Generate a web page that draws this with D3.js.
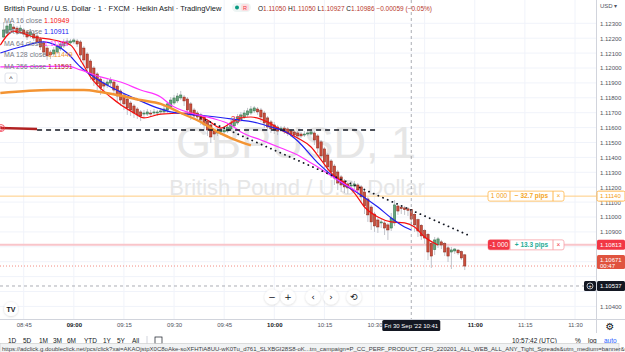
<!DOCTYPE html>
<html>
<head>
<meta charset="utf-8">
<script src="https://cdn.jsdelivr.net/npm/d3@7"></script>
<style>
  body { margin: 0; background: #fff; }
  svg { display: block; font-family: "Liberation Sans", Arial, sans-serif; }
</style>
</head>
<body>
<div id="chart"></div>
<script>
// Heikin Ashi bars, 1 minute: time, open, high, low, close
const bars = [
  ["08:39", 1.12208, 1.12309, 1.12201, 1.12255], ["08:40", 1.12235, 1.12309, 1.12228, 1.12282],
  ["08:41", 1.12255, 1.12315, 1.12248, 1.12295], ["08:42", 1.12275, 1.12295, 1.12242, 1.12262],
  ["08:43", 1.12268, 1.12282, 1.12221, 1.12235], ["08:44", 1.12248, 1.12289, 1.12228, 1.12268],
  ["08:45", 1.12255, 1.12268, 1.12208, 1.12228], ["08:46", 1.12242, 1.12255, 1.12188, 1.12208],
  ["08:47", 1.12221, 1.12262, 1.12201, 1.12242], ["08:48", 1.12228, 1.12248, 1.12181, 1.12201],
  ["08:49", 1.12215, 1.12228, 1.12154, 1.12175], ["08:50", 1.12195, 1.12208, 1.12121, 1.12141],
  ["08:51", 1.12168, 1.12181, 1.12081, 1.12107], ["08:52", 1.12134, 1.12148, 1.12054, 1.12081],
  ["08:53", 1.12107, 1.12121, 1.12060, 1.12087], ["08:54", 1.12094, 1.12141, 1.12074, 1.12121],
  ["08:55", 1.12107, 1.12161, 1.12094, 1.12148], ["08:56", 1.12128, 1.12175, 1.12114, 1.12161],
  ["08:57", 1.12148, 1.12195, 1.12134, 1.12175], ["08:58", 1.12161, 1.12201, 1.12154, 1.12181],
  ["08:59", 1.12168, 1.12195, 1.12161, 1.12181], ["09:00", 1.12175, 1.12201, 1.12161, 1.12188],
  ["09:01", 1.12181, 1.12195, 1.12141, 1.12161], ["09:02", 1.12175, 1.12188, 1.12040, 1.12087],
  ["09:03", 1.12134, 1.12148, 1.12013, 1.12054], ["09:04", 1.12094, 1.12107, 1.11973, 1.12000],
  ["09:05", 1.12047, 1.12060, 1.11920, 1.11953], ["09:06", 1.12000, 1.12013, 1.11879, 1.11920],
  ["09:07", 1.11960, 1.11973, 1.11852, 1.11893], ["09:08", 1.11926, 1.11940, 1.11819, 1.11866],
  ["09:09", 1.11899, 1.11920, 1.11839, 1.11879], ["09:10", 1.11886, 1.11933, 1.11866, 1.11906],
  ["09:11", 1.11899, 1.11940, 1.11879, 1.11920], ["09:12", 1.11906, 1.11920, 1.11819, 1.11852],
  ["09:13", 1.11879, 1.11893, 1.11772, 1.11812], ["09:14", 1.11846, 1.11859, 1.11745, 1.11785],
  ["09:15", 1.11819, 1.11832, 1.11718, 1.11759], ["09:16", 1.11792, 1.11805, 1.11685, 1.11732],
  ["09:17", 1.11765, 1.11779, 1.11678, 1.11718], ["09:18", 1.11745, 1.11759, 1.11665, 1.11698],
  ["09:19", 1.11725, 1.11738, 1.11658, 1.11685], ["09:20", 1.11705, 1.11718, 1.11644, 1.11678],
  ["09:21", 1.11691, 1.11718, 1.11665, 1.11698], ["09:22", 1.11691, 1.11725, 1.11678, 1.11705],
  ["09:23", 1.11698, 1.11718, 1.11671, 1.11691], ["09:24", 1.11698, 1.11725, 1.11678, 1.11705],
  ["09:25", 1.11698, 1.11718, 1.11678, 1.11705], ["09:26", 1.11705, 1.11732, 1.11685, 1.11712],
  ["09:27", 1.11705, 1.11745, 1.11691, 1.11725], ["09:28", 1.11718, 1.11772, 1.11698, 1.11759],
  ["09:29", 1.11738, 1.11805, 1.11725, 1.11785], ["09:30", 1.11765, 1.11819, 1.11752, 1.11799],
  ["09:31", 1.11779, 1.11832, 1.11765, 1.11812], ["09:32", 1.11799, 1.11846, 1.11785, 1.11819],
  ["09:33", 1.11805, 1.11819, 1.11745, 1.11779], ["09:34", 1.11792, 1.11805, 1.11671, 1.11718],
  ["09:35", 1.11759, 1.11772, 1.11651, 1.11685], ["09:36", 1.11718, 1.11732, 1.11651, 1.11678],
  ["09:37", 1.11698, 1.11712, 1.11644, 1.11671], ["09:38", 1.11685, 1.11698, 1.11618, 1.11651],
  ["09:39", 1.11671, 1.11685, 1.11584, 1.11618], ["09:40", 1.11644, 1.11658, 1.11544, 1.11584],
  ["09:41", 1.11618, 1.11631, 1.11497, 1.11537], ["09:42", 1.11577, 1.11591, 1.11517, 1.11557],
  ["09:43", 1.11564, 1.11597, 1.11544, 1.11571], ["09:44", 1.11571, 1.11597, 1.11550, 1.11577],
  ["09:45", 1.11571, 1.11604, 1.11557, 1.11584], ["09:46", 1.11577, 1.11624, 1.11564, 1.11604],
  ["09:47", 1.11591, 1.11651, 1.11577, 1.11631], ["09:48", 1.11611, 1.11671, 1.11597, 1.11651],
  ["09:49", 1.11631, 1.11691, 1.11618, 1.11671], ["09:50", 1.11651, 1.11705, 1.11638, 1.11685],
  ["09:51", 1.11671, 1.11718, 1.11658, 1.11698], ["09:52", 1.11685, 1.11732, 1.11671, 1.11712],
  ["09:53", 1.11698, 1.11745, 1.11685, 1.11725], ["09:54", 1.11712, 1.11745, 1.11698, 1.11732],
  ["09:55", 1.11725, 1.11738, 1.11685, 1.11705], ["09:56", 1.11718, 1.11732, 1.11638, 1.11671],
  ["09:57", 1.11698, 1.11712, 1.11597, 1.11631], ["09:58", 1.11665, 1.11678, 1.11577, 1.11604],
  ["09:59", 1.11638, 1.11651, 1.11564, 1.11591], ["10:00", 1.11618, 1.11638, 1.11557, 1.11584],
  ["10:01", 1.11604, 1.11618, 1.11550, 1.11577], ["10:02", 1.11591, 1.11611, 1.11571, 1.11597],
  ["10:03", 1.11597, 1.11611, 1.11557, 1.11577], ["10:04", 1.11591, 1.11604, 1.11544, 1.11564],
  ["10:05", 1.11577, 1.11591, 1.11537, 1.11557], ["10:06", 1.11571, 1.11584, 1.11530, 1.11550],
  ["10:07", 1.11564, 1.11577, 1.11524, 1.11544], ["10:08", 1.11557, 1.11571, 1.11530, 1.11544],
  ["10:09", 1.11550, 1.11577, 1.11537, 1.11557], ["10:10", 1.11557, 1.11584, 1.11544, 1.11564],
  ["10:11", 1.11557, 1.11577, 1.11550, 1.11571], ["10:12", 1.11564, 1.11577, 1.11483, 1.11517],
  ["10:13", 1.11544, 1.11557, 1.11430, 1.11463], ["10:14", 1.11504, 1.11517, 1.11383, 1.11410],
  ["10:15", 1.11457, 1.11470, 1.11329, 1.11369], ["10:16", 1.11416, 1.11430, 1.11282, 1.11336],
  ["10:17", 1.11376, 1.11389, 1.11262, 1.11302], ["10:18", 1.11342, 1.11356, 1.11215, 1.11262],
  ["10:19", 1.11302, 1.11316, 1.11181, 1.11228], ["10:20", 1.11269, 1.11282, 1.11168, 1.11215],
  ["10:21", 1.11242, 1.11255, 1.11161, 1.11202], ["10:22", 1.11222, 1.11235, 1.11155, 1.11195],
  ["10:23", 1.11208, 1.11242, 1.11181, 1.11215], ["10:24", 1.11208, 1.11242, 1.11188, 1.11222],
  ["10:25", 1.11215, 1.11228, 1.11148, 1.11181], ["10:26", 1.11202, 1.11215, 1.11094, 1.11135],
  ["10:27", 1.11168, 1.11181, 1.11020, 1.11074], ["10:28", 1.11121, 1.11135, 1.10967, 1.11014],
  ["10:29", 1.11067, 1.11081, 1.10913, 1.10967], ["10:30", 1.11020, 1.11034, 1.10900, 1.10940],
  ["10:31", 1.10980, 1.10993, 1.10893, 1.10933], ["10:32", 1.10960, 1.10987, 1.10926, 1.10967],
  ["10:33", 1.10960, 1.10973, 1.10879, 1.10926], ["10:34", 1.10947, 1.10960, 1.10846, 1.10913],
  ["10:35", 1.10926, 1.11027, 1.10906, 1.10993], ["10:36", 1.10960, 1.11114, 1.10940, 1.11081],
  ["10:37", 1.11074, 1.11080, 1.11014, 1.11040], ["10:38", 1.11066, 1.11080, 1.11020, 1.11056],
  ["10:39", 1.11061, 1.11074, 1.11014, 1.11049], ["10:40", 1.11055, 1.11067, 1.11007, 1.11045],
  ["10:41", 1.11050, 1.11050, 1.10927, 1.10986], ["10:42", 1.11018, 1.11025, 1.10900, 1.10947],
  ["10:43", 1.10982, 1.10990, 1.10866, 1.10906], ["10:44", 1.10944, 1.10953, 1.10846, 1.10873],
  ["10:45", 1.10908, 1.10920, 1.10819, 1.10859], ["10:46", 1.10884, 1.10893, 1.10711, 1.10765],
  ["10:47", 1.10824, 1.10832, 1.10658, 1.10738], ["10:48", 1.10781, 1.10866, 1.10745, 1.10846],
  ["10:49", 1.10813, 1.10866, 1.10792, 1.10853], ["10:50", 1.10833, 1.10846, 1.10785, 1.10812],
  ["10:51", 1.10822, 1.10832, 1.10738, 1.10765], ["10:52", 1.10793, 1.10806, 1.10698, 1.10738],
  ["10:53", 1.10765, 1.10799, 1.10651, 1.10779], ["10:54", 1.10772, 1.10792, 1.10752, 1.10785],
  ["10:55", 1.10778, 1.10785, 1.10745, 1.10759], ["10:56", 1.10768, 1.10775, 1.10711, 1.10725],
  ["10:57", 1.10746, 1.10752, 1.10644, 1.10671]
]

// moving averages (time, value)
const ma16 = [["08:38", 1.12154], ["08:42", 1.12248], ["08:48", 1.12208], ["08:54", 1.12188], ["08:59", 1.12154],
  ["09:02", 1.12054], ["09:05", 1.11940], ["09:11", 1.11805], ["09:18", 1.11698], ["09:21", 1.11665],
  ["09:26", 1.11691], ["09:35", 1.11698], ["09:40", 1.11651], ["09:44", 1.11597], ["09:47", 1.11631],
  ["09:50", 1.11665], ["09:53", 1.11671], ["09:58", 1.11638], ["10:02", 1.11584], ["10:07", 1.11530],
  ["10:11", 1.11470], ["10:14", 1.11383], ["10:17", 1.11296], ["10:21", 1.11228], ["10:24", 1.11161],
  ["10:27", 1.11067], ["10:31", 1.11000], ["10:35", 1.10967], ["10:39", 1.10960], ["10:42", 1.10933],
  ["10:45", 1.10866], ["10:49", 1.10812]]
const ma32 = [["08:38", 1.12101], ["08:44", 1.12141], ["08:51", 1.12175], ["08:58", 1.12101], ["09:02", 1.12007],
  ["09:06", 1.11940], ["09:11", 1.11873], ["09:18", 1.11799], ["09:25", 1.11732], ["09:29", 1.11705],
  ["09:40", 1.11678], ["09:47", 1.11658], ["09:55", 1.11631], ["09:59", 1.11604], ["10:04", 1.11564],
  ["10:07", 1.11510], ["10:13", 1.11363], ["10:19", 1.11248], ["10:25", 1.11161], ["10:31", 1.11067],
  ["10:35", 1.10993], ["10:39", 1.10933], ["10:41", 1.10913]]
const ma64 = [["08:38", 1.12007], ["08:58", 1.12013], ["09:02", 1.11987], ["09:08", 1.11940], ["09:14", 1.11906],
  ["09:20", 1.11852], ["09:26", 1.11805], ["09:29", 1.11752], ["09:35", 1.11698], ["09:41", 1.11665],
  ["09:47", 1.11618], ["09:50", 1.11571], ["09:56", 1.11517], ["10:02", 1.11463], ["10:07", 1.11416],
  ["10:11", 1.11363], ["10:13", 1.11336], ["10:19", 1.11248], ["10:25", 1.11168]]
const ma128 = [["08:38", 1.11832], ["08:53", 1.11852], ["09:03", 1.11852], ["09:08", 1.11839], ["09:13", 1.11819],
  ["09:20", 1.11785], ["09:26", 1.11759], ["09:32", 1.11698], ["09:38", 1.11638], ["09:43", 1.11571],
  ["09:47", 1.11530], ["09:53", 1.11480]]
const ma256 = [["08:38", 1.11597], ["08:49", 1.11591]]

const maNames = ["MA 16 close", "MA 32 close", "MA 64 close", "MA 128 close", "MA 256 close"]
const maValues = ["1.10949", "1.10911", "1.11183", "1.11449", "1.11591"]
const maColors = ["#f50f0f", "#2020f0", "#ff33ff", "#f39433", "#b22222"]

// drawings and trading lines
const levelLine = { from: "08:49", to: "10:31", price: 1.11584 }
const trendLine = [["09:38", 1.11665], ["10:58", 1.10879]]
const orders = [
  { price: 1.11140, qty: "1 000", pips: "\u2212 32.7 pips", kind: "buy" },
  { price: 1.10813, qty: "-1 000", pips: "+ 13.3 pips", kind: "sell" }
]
const lastPrice = 1.10671, countdown = "00:47"
const cursorTime = "10:41", cursorPrice = 1.10537
const priceTicks = d3.range(1.104, 1.12350, 0.001)

const W = 625, H = 352, plotR = 596, plotB = 319
const parse = d3.timeParse("%H:%M")
const x = d3.scaleTime().domain([parse("08:45"), parse("11:30")]).range([23.7, 575])
const y = d3.scaleLinear().domain([1.104, 1.124]).range([306.4, 8.4])
const fmt5 = d3.format(".5f")

const svg = d3.select("#chart").append("svg")
  .attr("width", W).attr("height", H)
svg.append("rect").attr("width", W).attr("height", H).attr("fill", "#fff")

svg.append("defs").append("clipPath").attr("id", "plot")
  .append("rect").attr("width", plotR).attr("height", plotB)
const f = svg.append("defs").append("filter").attr("id", "shadow")
  .attr("x", "-50%").attr("y", "-50%").attr("width", "200%").attr("height", "200%")
f.append("feDropShadow").attr("dx", 0).attr("dy", 0.5).attr("stdDeviation", 1)
  .attr("flood-color", "#000").attr("flood-opacity", 0.2)

const plot = svg.append("g").attr("clip-path", "url(#plot)")

// grid
const timeTicks = x.ticks(d3.timeMinute.every(15))
plot.selectAll(".vg").data(timeTicks).enter().append("line")
  .attr("x1", d => x(d)).attr("x2", d => x(d)).attr("y1", 0).attr("y2", plotB)
  .attr("stroke", "#f0f3fa")
plot.selectAll(".hg").data(priceTicks).enter().append("line")
  .attr("x1", 0).attr("x2", plotR).attr("y1", d => y(d)).attr("y2", d => y(d))
  .attr("stroke", "#f0f3fa")

// watermark
plot.append("text").attr("x", 296).attr("y", 158).attr("text-anchor", "middle")
  .attr("font-size", 45).attr("fill", "#e6e6e6").text("GBPUSD, 1")
plot.append("text").attr("x", 297).attr("y", 195).attr("text-anchor", "middle")
  .attr("font-size", 22).attr("fill", "#e6e6e6").text("British Pound / U.S. Dollar")

// order lines
orders.forEach(o => {
  plot.append("line").attr("x1", 0).attr("x2", plotR)
    .attr("y1", y(o.price)).attr("y2", y(o.price))
    .attr("stroke", o.kind === "buy" ? "#ffcc80" : "#f9c5ca")
    .attr("stroke-width", o.kind === "buy" ? 1 : 2)
})
// last price line
plot.append("line").attr("x1", 0).attr("x2", plotR)
  .attr("y1", y(lastPrice)).attr("y2", y(lastPrice))
  .attr("stroke", "#f28b82").attr("stroke-dasharray", "1,2")

// candles
const bw = 2.3
const cg = plot.append("g")
cg.selectAll(".wick").data(bars).enter().append("line")
  .attr("x1", d => x(parse(d[0]))).attr("x2", d => x(parse(d[0])))
  .attr("y1", d => y(d[2])).attr("y2", d => y(d[3]))
  .attr("stroke", "#b2b5be").attr("stroke-width", 0.8)
cg.selectAll(".body").data(bars).enter().append("rect")
  .attr("x", d => x(parse(d[0])) - bw / 2)
  .attr("y", d => y(Math.max(d[1], d[4])))
  .attr("width", bw)
  .attr("height", d => Math.max(0.8, Math.abs(y(d[1]) - y(d[4]))))
  .attr("fill", d => d[4] >= d[1] ? "#66a37a" : "#cc4e3c")
  .attr("stroke", d => d[4] >= d[1] ? "#2f6e48" : "#85261a")
  .attr("stroke-width", 0.5)

// moving averages
const maLine = d3.line().x(d => x(parse(d[0]))).y(d => y(d[1])).curve(d3.curveMonotoneX)
const maSets = [ma16, ma32, ma64, ma128, ma256]
const maWidths = [1.2, 1.2, 1.2, 2.4, 2.4]
maSets.forEach((s, i) => {
  plot.append("path").datum(s).attr("d", maLine)
    .attr("fill", "none").attr("stroke", maColors[i]).attr("stroke-width", maWidths[i])
})

// drawings
plot.append("line")
  .attr("x1", x(parse(levelLine.from))).attr("x2", x(parse(levelLine.to)))
  .attr("y1", y(levelLine.price)).attr("y2", y(levelLine.price))
  .attr("stroke", "#131722").attr("stroke-width", 1.3).attr("stroke-dasharray", "5,4")
plot.append("line")
  .attr("x1", x(parse(trendLine[0][0]))).attr("y1", y(trendLine[0][1]))
  .attr("x2", x(parse(trendLine[1][0]))).attr("y2", y(trendLine[1][1]))
  .attr("stroke", "#131722").attr("stroke-width", 1.8)
  .attr("stroke-dasharray", "0.1,5").attr("stroke-linecap", "round")
plot.append("text").attr("x", x(parse("09:47"))).attr("y", y(1.11635))
  .attr("font-size", 9).attr("fill", "#f23645").text("23°")
plot.append("circle").attr("cx", 1).attr("cy", y(1.11597)).attr("r", 3.5)
  .attr("fill", "none").attr("stroke", "#f23645").attr("stroke-width", 0.8)
plot.append("text").attr("x", 1).attr("y", y(1.11597) + 2.5).attr("text-anchor", "middle")
  .attr("font-size", 7).attr("fill", "#f23645").text("0")

// crosshair
plot.append("line").attr("x1", x(parse(cursorTime))).attr("x2", x(parse(cursorTime)))
  .attr("y1", 0).attr("y2", plotB)
  .attr("stroke", "#9598a1").attr("stroke-width", 0.8).attr("stroke-dasharray", "3,3")
plot.append("line").attr("x1", 0).attr("x2", plotR)
  .attr("y1", y(cursorPrice)).attr("y2", y(cursorPrice))
  .attr("stroke", "#9598a1").attr("stroke-width", 0.8).attr("stroke-dasharray", "3,3")

// order boxes
orders.forEach(o => {
  const cy = y(o.price), bx = 488, by = cy - 5
  const buy = o.kind === "buy"
  const edge = buy ? "#ffb74d" : "#f7a1a8"
  const g = svg.append("g")
  g.append("rect").attr("x", bx).attr("y", by).attr("width", 76).attr("height", 10)
    .attr("rx", 2).attr("fill", "#fff").attr("stroke", edge).attr("stroke-width", 0.8)
  if (!buy) g.append("rect").attr("x", bx).attr("y", by).attr("width", 22).attr("height", 10)
    .attr("rx", 2).attr("fill", "#f23645")
  g.append("line").attr("x1", bx + 22).attr("x2", bx + 22).attr("y1", by).attr("y2", by + 10).attr("stroke", edge)
  g.append("line").attr("x1", bx + 65).attr("x2", bx + 65).attr("y1", by).attr("y2", by + 10).attr("stroke", edge)
  g.append("text").attr("x", bx + 11).attr("y", cy + 2.3).attr("text-anchor", "middle")
    .attr("font-size", 6.5).attr("fill", buy ? "#f39c12" : "#fff").text(o.qty)
  g.append("text").attr("x", bx + 43.5).attr("y", cy + 2.3).attr("text-anchor", "middle")
    .attr("font-size", 6.5).attr("font-weight", "bold")
    .attr("fill", buy ? "#f5a623" : "#22ab94").text(o.pips)
  g.append("text").attr("x", bx + 70.5).attr("y", cy + 2.3).attr("text-anchor", "middle")
    .attr("font-size", 6.5).attr("fill", buy ? "#f5a623" : "#f23645").text("\u00d7")
})

// price axis
svg.append("line").attr("x1", plotR + 0.5).attr("x2", plotR + 0.5).attr("y1", 0).attr("y2", H - 19)
  .attr("stroke", "#d1d4dc")
const hidden = [y(orders[1].price), y(lastPrice) - 6, y(lastPrice) + 3, y(cursorPrice)]
const yAxis = d3.axisRight(y).tickValues(priceTicks).tickFormat(fmt5).tickSize(0).tickPadding(4)
const ya = svg.append("g").attr("transform", `translate(${plotR},0)`).call(yAxis)
ya.select(".domain").remove()
ya.selectAll("text").attr("font-size", 6).attr("fill", "#50535e")
  .attr("display", d => hidden.some(h => Math.abs(h - y(d)) < 8) ? "none" : null)
svg.append("text").attr("x", 600).attr("y", 8).attr("font-size", 6).attr("fill", "#50535e").text("USD \u25be")

function axisLabel(price, fill, stroke, color, text2) {
  const cy = y(price)
  const h = text2 ? 14 : 10
  const top = text2 ? cy - 11 : cy - 5
  svg.append("rect").attr("x", plotR + 1).attr("y", top).attr("width", W - plotR - 1).attr("height", h)
    .attr("fill", fill).attr("stroke", stroke).attr("rx", 1.5)
  svg.append("text").attr("x", 600).attr("y", top + 7.3).attr("font-size", 6).attr("fill", color).text(fmt5(price))
  if (text2) svg.append("text").attr("x", 600).attr("y", top + 13).attr("font-size", 6).attr("fill", color).text(text2)
}
axisLabel(orders[0].price, "#fff", "#ffb74d", "#f39c12")
axisLabel(orders[1].price, "#f23645", "none", "#fff")
axisLabel(lastPrice, "#e0533f", "none", "#fff", countdown)
axisLabel(cursorPrice, "#131722", "none", "#fff")
svg.append("rect").attr("x", 584).attr("y", y(cursorPrice) - 5).attr("width", 12).attr("height", 10)
  .attr("fill", "#131722").attr("rx", 1.5)
svg.append("circle").attr("cx", 590).attr("cy", y(cursorPrice)).attr("r", 3)
  .attr("fill", "none").attr("stroke", "#fff").attr("stroke-width", 0.7)
svg.append("text").attr("x", 590).attr("y", y(cursorPrice) + 2).attr("text-anchor", "middle")
  .attr("font-size", 6).attr("fill", "#fff").text("+")

// time axis
svg.append("line").attr("x1", 0).attr("x2", W).attr("y1", plotB + 0.5).attr("y2", plotB + 0.5).attr("stroke", "#d1d4dc")
const xAxis = d3.axisBottom(x).ticks(d3.timeMinute.every(15)).tickFormat(d3.timeFormat("%H:%M"))
  .tickSize(0).tickPadding(4)
const xa = svg.append("g").attr("transform", `translate(0,${plotB})`).call(xAxis)
xa.select(".domain").remove()
xa.selectAll("text").attr("font-size", 6).attr("fill", "#50535e")
  .attr("font-weight", d => d.getMinutes() === 0 ? "bold" : null)
  .attr("fill", d => d.getMinutes() === 0 ? "#131722" : "#50535e")
const cx = x(parse(cursorTime))
svg.append("rect").attr("x", cx - 29).attr("y", plotB + 1).attr("width", 58).attr("height", 11)
  .attr("fill", "#131722").attr("rx", 1.5)
svg.append("text").attr("x", cx).attr("y", plotB + 8.5).attr("text-anchor", "middle")
  .attr("font-size", 6).attr("fill", "#fff").text("Fri 30 Sep '22   " + cursorTime)
svg.append("text").attr("x", 610).attr("y", 330).attr("text-anchor", "middle")
  .attr("font-family", "DejaVu Sans").attr("font-size", 10).attr("fill", "#131722").text("\u2699")

// header
svg.append("text").attr("x", 4).attr("y", 10.5).attr("font-size", 7.5).attr("fill", "#131722")
  .text("British Pound / U.S. Dollar · 1 · FXCM · Heikin Ashi · TradingView")
svg.append("rect").attr("x", 232).attr("y", 3).attr("width", 19).attr("height", 9).attr("rx", 4.5)
  .attr("fill", "#eef5f4")
svg.append("circle").attr("cx", 237).attr("cy", 7.5).attr("r", 2).attr("fill", "#089981")
svg.append("rect").attr("x", 241).attr("y", 4).attr("width", 8).attr("height", 7).attr("rx", 2).attr("fill", "#fbdde0")
svg.append("text").attr("x", 245).attr("y", 9.8).attr("text-anchor", "middle").attr("font-size", 5.5)
  .attr("fill", "#f23645").text("R")
const cur = bars.find(b => b[0] === cursorTime)
const prev = bars[bars.indexOf(cur) - 1]
const chg = cur[4] - prev[4]
const ohlc = svg.append("text").attr("x", 258).attr("y", 10.5).attr("font-size", 6.5).attr("fill", "#b8392b")
;[["O", cur[1]], ["H", cur[2]], ["L", cur[3]], ["C", cur[4]]].forEach(([k, v]) => {
  ohlc.append("tspan").attr("fill", "#131722").text(k)
  ohlc.append("tspan").text(fmt5(v) + " ")
})
ohlc.append("tspan").text("\u2212" + fmt5(Math.abs(chg)) + " (\u2212" + (Math.abs(chg) / prev[4] * 100).toFixed(2) + "%)")

// legend
maNames.forEach((n, i) => {
  const t = svg.append("text").attr("x", 4).attr("y", 22.5 + i * 11.5).attr("font-size", 7)
  t.append("tspan").attr("fill", "#787b86").text(n + "  ")
  t.append("tspan").attr("fill", maColors[i]).text(maValues[i])
})
svg.append("rect").attr("x", 5).attr("y", 73).attr("width", 12).attr("height", 10).attr("rx", 2)
  .attr("fill", "#fff").attr("stroke", "#e0e3eb")
svg.append("text").attr("x", 11).attr("y", 81).attr("text-anchor", "middle").attr("font-size", 7)
  .attr("fill", "#131722").text("^")

// navigation buttons
const navX = [272, 288, 313, 331, 354]
const navIcons = ["\u2212", "+", "\u2039", "\u203a", "\u27f2"]
navX.forEach((nx, i) => {
  svg.append("circle").attr("cx", nx).attr("cy", 297).attr("r", 7.5)
    .attr("fill", "#fff").attr("filter", "url(#shadow)")
  svg.append("text").attr("x", nx).attr("y", 300).attr("text-anchor", "middle")
    .attr("font-family", "DejaVu Sans").attr("font-size", 9).attr("fill", "#131722").text(navIcons[i])
})
svg.append("circle").attr("cx", 11).attr("cy", 309).attr("r", 7).attr("fill", "#fff").attr("filter", "url(#shadow)")
svg.append("text").attr("x", 11).attr("y", 311.5).attr("text-anchor", "middle").attr("font-size", 7)
  .attr("font-weight", 900).attr("fill", "#131722").text("TV")

// bottom toolbar
const ranges = ["1D", "5D", "1M", "3M", "6M", "YTD", "1Y", "5Y", "All"]
const rangeX = [8, 23, 39, 53, 67, 84, 103, 117, 132]
ranges.forEach((r, i) => svg.append("text").attr("x", rangeX[i]).attr("y", 343).attr("font-size", 6.5)
  .attr("fill", "#131722").text(r))
svg.append("line").attr("x1", 147).attr("x2", 147).attr("y1", 336).attr("y2", 346).attr("stroke", "#d1d4dc")
svg.append("rect").attr("x", 155).attr("y", 337).attr("width", 7).attr("height", 7).attr("fill", "none")
  .attr("stroke", "#131722").attr("stroke-width", 0.7)
svg.append("text").attr("x", 512).attr("y", 343).attr("font-size", 6.5).attr("fill", "#131722").text("10:57:42 (UTC)")
svg.append("text").attr("x", 575).attr("y", 343).attr("font-size", 6.5).attr("fill", "#131722").text("%")
svg.append("text").attr("x", 588).attr("y", 343).attr("font-size", 6.5).attr("fill", "#131722").text("log")
svg.append("text").attr("x", 604).attr("y", 343).attr("font-size", 6.5).attr("fill", "#2962ff").text("auto")

// browser status bar
svg.append("rect").attr("x", 0).attr("y", 343.5).attr("width", 619).attr("height", 9)
  .attr("fill", "#f1f3f4").attr("stroke", "#c8c8c8").attr("stroke-width", 0.6)
svg.append("text").attr("x", 2).attr("y", 350.5).attr("font-size", 6).attr("fill", "#3c4043")
  .text("https://adclick.g.doubleclick.net/pcs/click?xai=AKAOjstpX0C8oAke-soXFHTiA8UU-wK0Tu_d761_SLXBGI28S8-oK...tm_campaign=P_CC_PERF_PRODUCT_CFD_220201_ALL_WEB_ALL_ANY_Tight_Spreads&utm_medium=banner&utm_adset=Al")
</script>
</body>
</html>
